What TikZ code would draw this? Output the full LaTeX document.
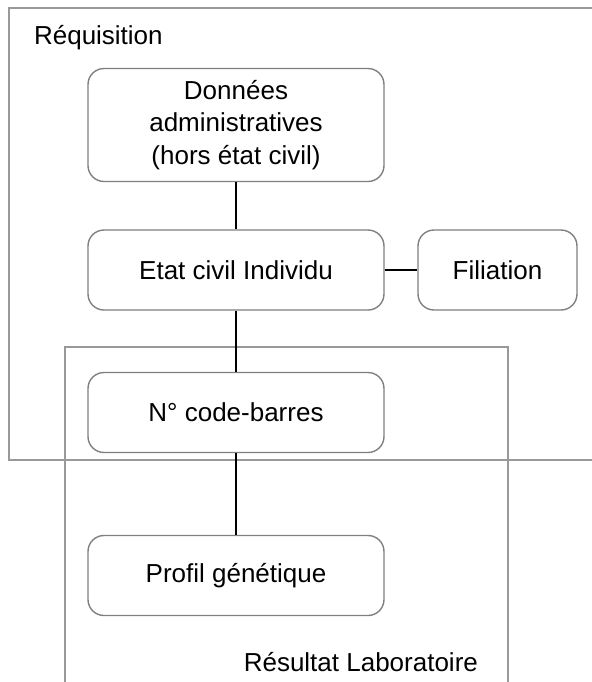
\documentclass[tikz,border=0pt]{standalone}
\usepackage{fontspec}
\setmainfont{Liberation Sans}
\usetikzlibrary{positioning}

\tikzset{
    bloc/.style={draw=black!50, line width=0.7pt, rounded corners=8pt, align=center,
        minimum width=148pt, minimum height=40pt, inner sep=2pt},
    cadre/.style={draw=black!40, line width=0.7pt},
    lien/.style={draw=black, line width=0.6pt}
}

\begin{document}
\begin{tikzpicture}[x=0.5pt, y=-0.5pt, font=\fontsize{13}{16.4}\selectfont]
    \useasboundingbox (0, 0) rectangle (592, 682);

    % les deux cadres
    \draw[cadre] (592, 8) -- (9, 8) -- (9, 460) -- (592, 460);
    \draw[cadre] (65, 682) -- (65, 347) -- (508, 347) -- (508, 682);
    \node[anchor=base west] (req) at (27, 44){Réquisition};
    \node[anchor=base east] (res) at (485, 671){Résultat Laboratoire};

    \node[bloc, minimum height=56.5pt] (admin) at (236, 125){Données\\administratives\\(hors état civil)};
    \node[bloc] (etat) at (236, 270){Etat civil Individu};
    \node[bloc, minimum width=79.5pt] (filiation) at (497.5, 270){Filiation};
    \node[bloc] (code) at (236, 412.5){N° code-barres};
    \node[bloc] (profil) at (236, 575.5){Profil génétique};

    \draw[lien] (admin) -- (etat);
    \draw[lien] (etat) -- (filiation);
    \draw[lien] (etat) -- (code);
    \draw[lien] (code) -- (profil);
\end{tikzpicture}
\end{document}
